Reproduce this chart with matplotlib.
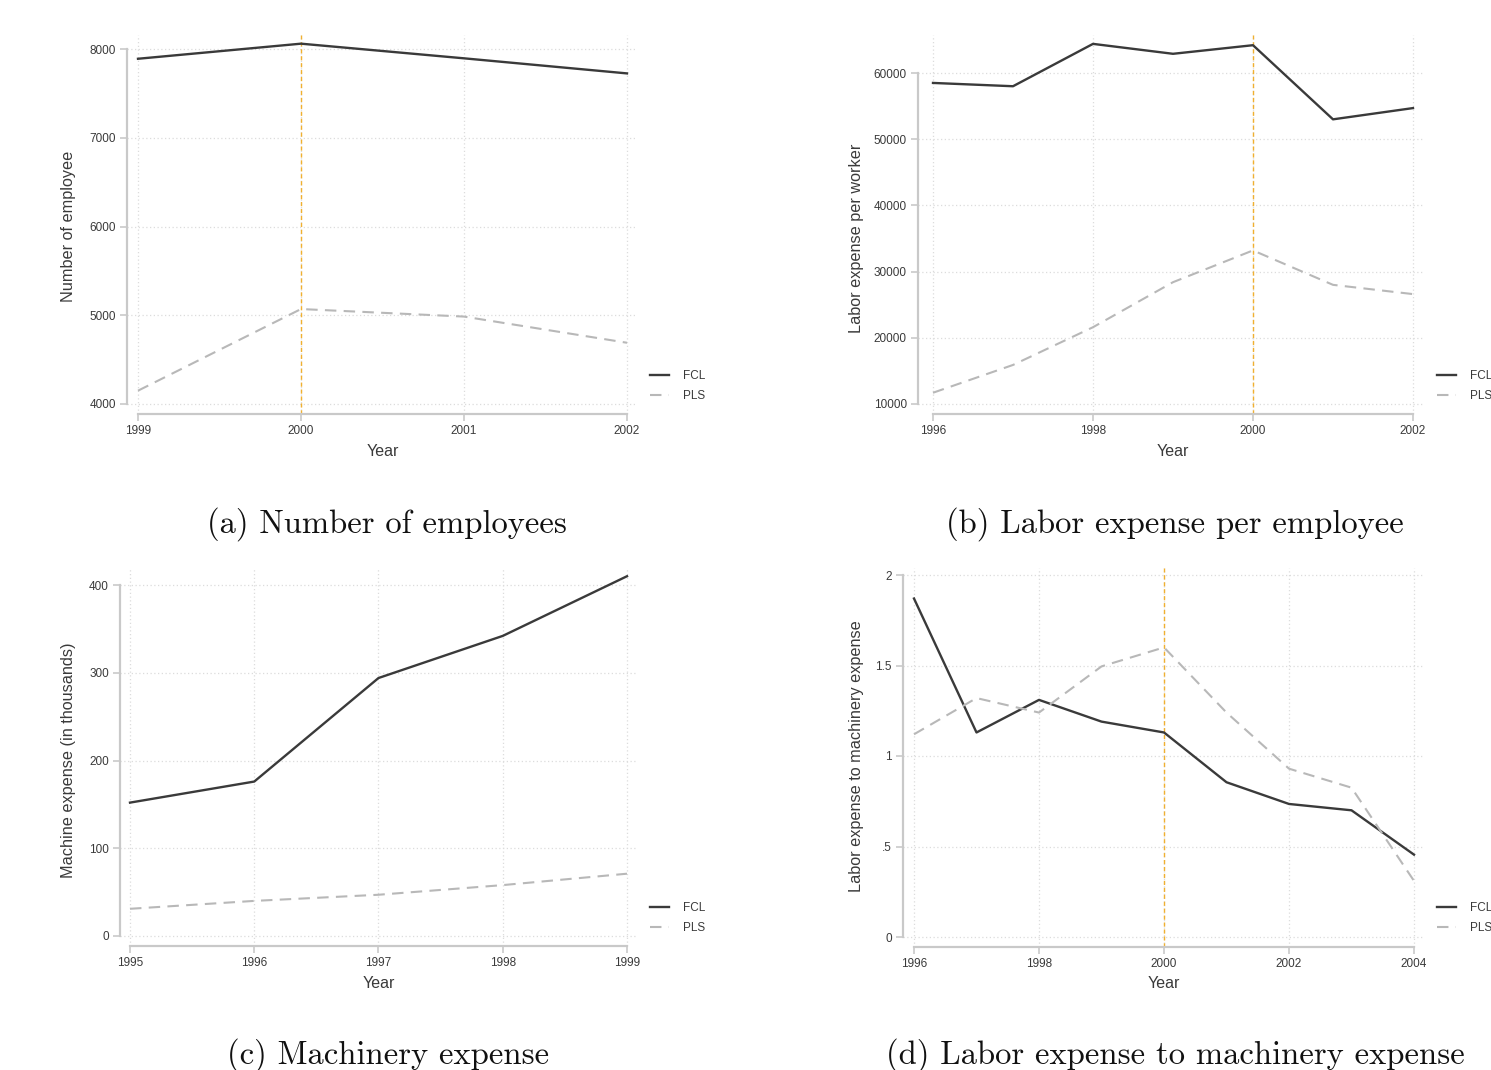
import matplotlib
matplotlib.use("Agg")
import matplotlib.pyplot as plt

# ---- data ----
emp_years = [1999, 2000, 2001, 2002]
emp_fcl = [7890, 8060, 7895, 7725]
emp_pls = [4150, 5070, 4985, 4690]

lab_years = [1996, 1997, 1998, 1999, 2000, 2001, 2002]
lab_fcl = [58500, 58000, 64400, 62900, 64200, 53000, 54700]
lab_pls = [11700, 15900, 21600, 28400, 33200, 28000, 26600]

mach_years = [1995, 1996, 1997, 1998, 1999]
mach_fcl = [152, 176, 294, 342, 410]
mach_pls = [31, 40, 47, 58, 71]

ratio_years = [1996, 1997, 1998, 1999, 2000, 2001, 2002, 2003, 2004]
ratio_fcl = [1.87, 1.13, 1.31, 1.19, 1.13, 0.855, 0.735, 0.70, 0.455]
ratio_pls = [1.12, 1.32, 1.24, 1.495, 1.60, 1.24, 0.93, 0.825, 0.31]

series_names = ["FCL", "PLS"]
captions = ["(a) Number of employees", "(b) Labor expense per employee",
            "(c) Machinery expense", "(d) Labor expense to machinery expense"]
ylabels = ["Number of employee", "Labor expense per worker",
           "Machine expense (in thousands)", "Labor expense to machinery expense"]

W, H = 1491, 1070
fig = plt.figure(figsize=(W / 100, H / 100), dpi=100)
plt.rcParams["font.family"] = ["Liberation Sans", "DejaVu Sans"]

C_FCL = "#3a3a3a"
C_PLS = "#b8b8b8"
C_REF = "#f0b030"
C_SPINE = "#c9c9c9"
C_GRID = "#dcdcdc"
C_TXT = "#3a3a3a"


def lin(p0, v0, p1, v1, e):
    return v0 + (e - p0) * (v1 - v0) / (p1 - p0)


def panel(box, xmap, ymap, years, fcl, pls, xticks, yticks, yticklabels,
          ylabel, ylab_x, year_y, legend_xy, caption, cap_xy, refline):
    l, t, r, b = box
    ax = fig.add_axes([l / W, 1 - b / H, (r - l) / W, (b - t) / H])
    (px0, x0), (px1, x1) = xmap
    (py0, y0), (py1, y1) = ymap
    ax.set_xlim(lin(px0, x0, px1, x1, l), lin(px0, x0, px1, x1, r))
    ax.set_ylim(lin(py0, y0, py1, y1, b), lin(py0, y0, py1, y1, t))

    ax.set_xticks(xticks)
    ax.set_xticklabels([str(v) for v in xticks])
    ax.set_yticks(yticks)
    ax.set_yticklabels(yticklabels)
    ax.grid(True, color=C_GRID, linestyle=(0, (1, 2)), linewidth=0.9)
    ax.set_axisbelow(True)

    for s in ("top", "right"):
        ax.spines[s].set_visible(False)
    for s in ("left", "bottom"):
        ax.spines[s].set_color(C_SPINE)
        ax.spines[s].set_linewidth(1.6)
    ax.spines["left"].set_bounds(yticks[0], yticks[-1])
    ax.spines["bottom"].set_bounds(xticks[0], xticks[-1])
    ax.tick_params(direction="out", length=5, width=1.2, color=C_SPINE,
                   labelsize=8.5, labelcolor=C_TXT, pad=3)

    if refline is not None:
        ax.axvline(refline, color=C_REF, linestyle=(0, (3, 2)), linewidth=1.0, zorder=1.5)

    ax.plot(years, fcl, color=C_FCL, linewidth=1.7, label=series_names[0], zorder=3)
    ax.plot(years, pls, color=C_PLS, linewidth=1.5, linestyle=(0, (5.5, 3.5)),
            label=series_names[1], zorder=3)

    ax.set_xlabel("Year", fontsize=11.5, color=C_TXT)
    ax.xaxis.label.set_va("center")
    xc = (px0 + px1) / 2
    ax.xaxis.set_label_coords((xc - l) / (r - l), (b - year_y) / (b - t))
    ax.set_ylabel(ylabel, fontsize=11.7, color=C_TXT)
    ax.yaxis.label.set_va("center")
    yc = (py0 + py1) / 2
    ax.yaxis.set_label_coords((ylab_x - l) / (r - l), (b - yc) / (b - t))

    lx, ly = legend_xy
    ax.legend(loc="center left", bbox_to_anchor=(lx / W, 1 - ly / H),
              bbox_transform=fig.transFigure, frameon=False, fontsize=8.5,
              handlelength=1.6, handletextpad=1.2, labelspacing=0.65,
              borderpad=0, borderaxespad=0, labelcolor=C_TXT)

    fig.text(cap_xy[0] / W, 1 - cap_xy[1] / H, caption, ha="center", va="center",
             fontsize=23.5, family="cmr10", color="#111111")
    return ax


panel((127, 35, 637, 414), ((138, 1999), (627, 2002)), ((404, 4000), (49, 8000)),
      emp_years, emp_fcl, emp_pls, [1999, 2000, 2001, 2002],
      [4000, 5000, 6000, 7000, 8000], ["4000", "5000", "6000", "7000", "8000"],
      ylabels[0], 69, 452, (650, 386), captions[0], (387, 524), 2000)

panel((918, 35, 1423, 414), ((933, 1996), (1413, 2002)), ((404, 10000), (73, 60000)),
      lab_years, lab_fcl, lab_pls, [1996, 1998, 2000, 2002],
      [10000, 20000, 30000, 40000, 50000, 60000],
      ["10000", "20000", "30000", "40000", "50000", "60000"],
      ylabels[1], 856, 452, (1437, 386), captions[1], (1175, 524), 2000)

panel((120, 568, 637, 946), ((130, 1995), (627, 1999)), ((936, 0), (585, 400)),
      mach_years, mach_fcl, mach_pls, [1995, 1996, 1997, 1998, 1999],
      [0, 100, 200, 300, 400], ["0", "100", "200", "300", "400"],
      ylabels[2], 69, 984, (650, 918), captions[2], (388, 1055), None)

panel((903, 568, 1423, 947), ((914, 1996), (1414, 2004)), ((937, 0), (575, 2)),
      ratio_years, ratio_fcl, ratio_pls, [1996, 1998, 2000, 2002, 2004],
      [0, 0.5, 1, 1.5, 2], ["0", ".5", "1", "1.5", "2"],
      ylabels[3], 856, 984, (1437, 918), captions[3], (1175, 1055), 2000)

fig.savefig("out.png", dpi=100, facecolor="white")
